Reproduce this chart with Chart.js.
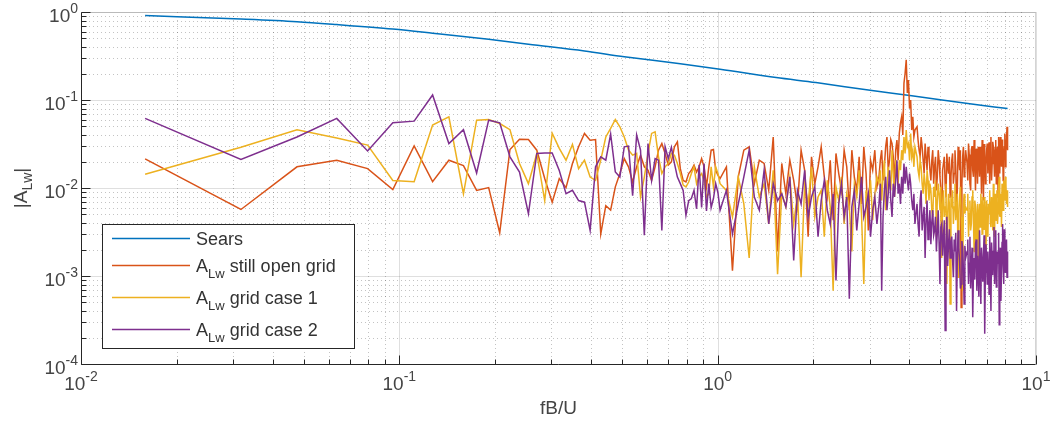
<!DOCTYPE html>
<html>
<head>
<meta charset="utf-8">
<script src="https://cdn.jsdelivr.net/npm/chart.js@4.4.1/dist/chart.umd.min.js"></script>
<style>
  html, body { margin: 0; padding: 0; background: #fff; overflow: hidden; }
  #wrap { width: 1053px; height: 424px; }
</style>
</head>
<body>
<div id="wrap"><canvas id="grafico"></canvas></div>
<script>
// frequency resolution (fB/U per FFT bin)
const df = 0.0159;

// FFT bins that are plotted (low bins all, high bins thinned)
const bins = [
  1, 2, 3, 4, 5, 6, 7, 8, 9, 10, 11, 12, 13, 14, 15, 16, 17, 18, 19, 20,
  21, 22, 23, 24, 25, 26, 27, 28, 29, 30, 31, 32, 33, 34, 35, 36, 37, 38, 39, 40,
  41, 42, 43, 44, 45, 46, 47, 48, 49, 50, 51, 52, 53, 54, 55, 56, 57, 58, 59, 60,
  61, 62, 63, 64,
  67, 70, 73, 76, 79, 82, 85, 88, 91, 94, 97, 100,
  103, 106, 109, 112, 115, 118, 121, 124, 127, 130, 133, 136, 139, 142, 145, 148, 151,
  154, 157, 160, 163, 166, 169, 172, 175, 178, 181, 184, 187, 190, 193, 196, 199,
  202, 204, 206, 208, 210, 212, 214, 216, 218, 220, 222, 224, 226, 228, 230, 232,
  234, 236, 238, 240, 242, 244, 246, 248, 250, 252, 254, 256, 258, 260, 262,
  266, 268, 270, 272, 274, 276, 278, 280, 282, 284, 286, 288, 290, 292, 294, 296,
  298, 300, 302, 304, 306, 308, 310, 312, 314, 316, 318, 320, 322, 324, 326, 328,
  330, 332, 334, 336, 338, 340, 342, 344, 346, 348, 350, 352, 354, 356, 358, 360,
  362, 364, 366, 368, 370, 372, 374, 376, 378,
  382, 384, 386, 388, 390, 392, 394, 396, 398, 400, 402, 404, 406, 408, 410, 412,
  414, 416, 418, 420, 422, 424, 426, 428, 430, 432, 434, 436, 438, 440, 442, 444,
  446, 448, 450, 452, 454, 456, 458, 460, 462, 464, 466, 468, 470, 472, 474, 476,
  478, 480, 482, 484, 486, 488, 490, 492, 494, 496, 498, 500, 502, 504, 506, 508, 510,
  512
];

// Sears function
const searsBins = [1, 2, 3, 4, 6, 8, 12, 16, 24, 32, 48, 64, 96, 128, 192, 256, 384, 512];
const searsAmp = [0.91, 0.83, 0.775, 0.72, 0.64, 0.575, 0.49, 0.43, 0.36, 0.31, 0.258, 0.224,
  0.18, 0.158, 0.128, 0.112, 0.091, 0.08];

// A_Lw still open grid
const openGrid = [
  0.0214, 0.0057, 0.0174, 0.0207, 0.0166, 0.0096, 0.030, 0.0118, 0.0207, 0.018,
  0.0094, 0.0101, 0.0031, 0.0274, 0.0359, 0.0355, 0.0269, 0.0128, 0.0069, 0.0128,
  0.0101, 0.019, 0.0294, 0.0417, 0.035, 0.0355, 0.003, 0.0063, 0.0056, 0.0103,
  0.0146, 0.0216, 0.0174, 0.0117, 0.0174, 0.0236, 0.0174, 0.0159, 0.0122, 0.0174,
  0.0269, 0.0321, 0.0247, 0.0182, 0.0198, 0.0294, 0.0335, 0.0166, 0.0122, 0.0117,
  0.0146, 0.0159, 0.0182, 0.0152, 0.0174, 0.0216, 0.0174, 0.0103, 0.0174, 0.0269,
  0.0274, 0.0159, 0.014, 0.0128,
  0.0174, 0.00115, 0.0134, 0.0269, 0.0294, 0.0112, 0.0207, 0.019, 0.0094, 0.038, 0.0019, 0.019,
  0.0086, 0.0207, 0.0122, 0.0061, 0.0269, 0.0159, 0.0028, 0.0226, 0.0112, 0.0174, 0.0294,
  0.0134, 0.0079, 0.0207, 0.0043, 0.0247, 0.0146, 0.0094, 0.0269, 0.0174, 0.0056, 0.0269,
  0.0134, 0.0094, 0.0226, 0.0066, 0.0294, 0.0146, 0.0033, 0.0207, 0.0159, 0.0269, 0.0103,
  0.0134, 0.0207, 0.0269, 0.0122, 0.0174, 0.0294, 0.038, 0.0159, 0.0207, 0.0355,
  0.032, 0.0226, 0.0112, 0.0269, 0.035, 0.0207, 0.0417, 0.055, 0.0645, 0.04,
  0.155, 0.2, 0.286, 0.12, 0.169, 0.08, 0.1, 0.0455, 0.0645, 0.038,
  0.0455,
  0.0497, 0.035, 0.0269, 0.0226, 0.038, 0.0294, 0.0207, 0.0146, 0.032, 0.0226,
  0.0159, 0.0294, 0.0247, 0.0159, 0.0122, 0.0207, 0.0269, 0.0112, 0.0174, 0.0226,
  0.0094, 0.0134, 0.0269, 0.0207, 0.0134, 0.0094, 0.0019, 0.0159, 0.019, 0.0226,
  0.0112, 0.0079, 0.0247, 0.0174, 0.0146, 0.0226, 0.0079, 0.0134, 0.0207, 0.0247,
  0.0112, 0.0146, 0.0269, 0.0174, 0.0056, 0.0094, 0.0294, 0.0226, 0.0159, 0.0269,
  0.00044, 0.0112, 0.0226, 0.0294, 0.0134, 0.0174, 0.0269,
  0.019, 0.0122, 0.032, 0.024, 0.0112, 0.0094, 0.0269, 0.03, 0.0159, 0.0134,
  0.035, 0.0207, 0.0094, 0.028, 0.0247, 0.0112, 0.0294, 0.022, 0.0134, 0.0294,
  0.0207, 0.0086, 0.035, 0.024, 0.0072, 0.0316, 0.0269, 0.0112, 0.0174, 0.0269,
  0.032, 0.0146, 0.0226, 0.033, 0.0112, 0.0247, 0.038, 0.0122, 0.019, 0.0335,
  0.0294, 0.0207, 0.0134, 0.0269, 0.035, 0.0112, 0.0207, 0.0294, 0.0079, 0.038,
  0.0269, 0.0146, 0.038, 0.0247, 0.0174, 0.0355, 0.0294, 0.0122, 0.0207, 0.0294,
  0.0417, 0.0174, 0.0269, 0.035, 0.0497,
  0.0269
];

// A_Lw grid case 1
const gridCase1 = [
  0.0143, 0.029, 0.046, 0.037, 0.0307, 0.0122, 0.0118, 0.052, 0.0645, 0.0086,
  0.059, 0.060, 0.054, 0.046, 0.019, 0.0112, 0.0247, 0.0072, 0.042, 0.0282,
  0.0207, 0.0313, 0.0166, 0.0207, 0.0133, 0.0122, 0.0207, 0.038, 0.0475, 0.060,
  0.0496, 0.038, 0.027, 0.0236, 0.0247, 0.0079, 0.0133, 0.0247, 0.0417, 0.0435,
  0.0226, 0.0146, 0.0174, 0.019, 0.0247, 0.0236, 0.019, 0.0146, 0.0108, 0.0103,
  0.0117, 0.0146, 0.0174, 0.0112, 0.0134, 0.0146, 0.0122, 0.0079, 0.0086, 0.0174,
  0.0103, 0.0174, 0.0146, 0.0112,
  0.0094, 0.0047, 0.0134, 0.0066, 0.0016, 0.0174, 0.0079, 0.0112, 0.0039, 0.0159, 0.00105, 0.0086,
  0.0061, 0.0134, 0.0039, 0.0086, 0.00097, 0.0112, 0.0066, 0.0174, 0.0047, 0.0079, 0.0094,
  0.0028, 0.0122, 0.0061, 0.00068, 0.0103, 0.0072, 0.0134, 0.0039, 0.0086, 0.0061, 0.0019,
  0.0112, 0.0079, 0.0159, 0.0051, 0.00081, 0.0094, 0.0066, 0.0122, 0.0043, 0.0086, 0.0134,
  0.0112, 0.0159, 0.0072, 0.0134, 0.0207, 0.0056, 0.0094, 0.0174, 0.0134, 0.0094,
  0.0269, 0.0134, 0.0079, 0.0207, 0.0159, 0.0112, 0.0207, 0.0159, 0.0269, 0.0207,
  0.038, 0.0247, 0.0455, 0.0294, 0.032, 0.0207, 0.0417, 0.0226, 0.0269, 0.0174,
  0.0294,
  0.0226, 0.0159, 0.0134, 0.0207, 0.0174, 0.0112, 0.0086, 0.0146, 0.0112, 0.0066,
  0.0159, 0.0122, 0.0072, 0.0112, 0.0094, 0.0056, 0.0047, 0.0103, 0.0079, 0.0122,
  0.0028, 0.0072, 0.0112, 0.0086, 0.0056, 0.0103, 0.0016, 0.0066, 0.0094, 0.0047,
  0.0061, 0.0112, 0.00081, 0.0051, 0.0086, 0.0066, 0.00048, 0.0072, 0.0066, 0.0094,
  0.0039, 0.0061, 0.0112, 0.0043, 0.0056, 0.0086, 0.00097, 0.0051, 0.0079, 0.0103,
  0.0047, 0.0028, 0.00068, 0.0066, 0.0086, 0.0051, 0.0061,
  0.0056, 0.0086, 0.0028, 0.0051, 0.0072, 0.0033, 0.0039, 0.0079, 0.0094, 0.0043,
  0.0019, 0.0072, 0.0061, 0.0026, 0.0043, 0.0066, 0.00081, 0.0051, 0.0066, 0.0036,
  0.0086, 0.0061, 0.003, 0.0079, 0.0056, 0.0034, 0.0079, 0.0047, 0.0016, 0.0072,
  0.0047, 0.0028, 0.0066, 0.0051, 0.0094, 0.0041, 0.0036, 0.0079, 0.0061, 0.0033,
  0.0112, 0.0056, 0.0028, 0.0086, 0.0072, 0.0043, 0.0094, 0.0039, 0.0051, 0.0103,
  0.0134, 0.0047, 0.0066, 0.0086, 0.0036, 0.0112, 0.0103, 0.0056, 0.0122, 0.0079,
  0.0072, 0.0134, 0.0112, 0.0066, 0.0094,
  0.0061
];

// A_Lw grid case 2
const gridCase2 = [
  0.0618, 0.0211, 0.038, 0.0618, 0.0264, 0.055, 0.0575, 0.114, 0.032, 0.046,
  0.0148, 0.059, 0.055, 0.0226, 0.0152, 0.0051, 0.0247, 0.025, 0.025, 0.0158,
  0.0086, 0.0094, 0.0072, 0.0069, 0.0033, 0.0174, 0.0226, 0.0207, 0.041, 0.0152,
  0.0133, 0.0294, 0.030, 0.0082, 0.040, 0.027, 0.0029, 0.032, 0.0122, 0.0216,
  0.0207, 0.0033, 0.0294, 0.0216, 0.029, 0.019, 0.0133, 0.0112, 0.0094, 0.0049,
  0.0072, 0.0076, 0.0094, 0.0058, 0.0183, 0.006, 0.019, 0.0055, 0.0112, 0.006,
  0.0076, 0.0112, 0.0089, 0.0056,
  0.0094, 0.003, 0.0066, 0.0134, 0.0269, 0.0079, 0.0056, 0.0159, 0.0039, 0.0112, 0.0072, 0.0086,
  0.0061, 0.0134, 0.0015, 0.0094, 0.0066, 0.0159, 0.0047, 0.0079, 0.0103, 0.0028, 0.0072,
  0.0122, 0.0056, 0.0039, 0.0086, 0.00089, 0.0066, 0.0112, 0.0047, 0.0079, 0.00055, 0.0061,
  0.0094, 0.0033, 0.0066, 0.0134, 0.0047, 0.0061, 0.0086, 0.0028, 0.0056, 0.0079, 0.0039,
  0.0066, 0.0112, 0.00068, 0.0047, 0.0094, 0.0134, 0.0056, 0.0086, 0.0159, 0.0072,
  0.0047, 0.0112, 0.0079, 0.0122, 0.0207, 0.0086, 0.0112, 0.0066, 0.0134, 0.0086,
  0.019, 0.0112, 0.0174, 0.0122, 0.0094, 0.0146, 0.0112, 0.0072, 0.0056, 0.0086,
  0.0039,
  0.0066, 0.0039, 0.0028, 0.0072, 0.0094, 0.0033, 0.0047, 0.0061, 0.0016, 0.0043,
  0.0072, 0.0026, 0.0039, 0.0056, 0.0023, 0.0041, 0.0056, 0.0029, 0.0033, 0.0047,
  0.0019, 0.0031, 0.0056, 0.0024, 0.00081, 0.0036, 0.0039, 0.0017, 0.0028, 0.0043,
  0.00024, 0.0021, 0.0047, 0.0013, 0.0023, 0.0034, 0.0016, 0.0024, 0.0028, 0.0015,
  0.00097, 0.0026, 0.0019, 0.0031, 0.0004, 0.0016, 0.0033, 0.0021, 0.0014, 0.00072,
  0.00081, 0.0025, 0.0021, 0.0012, 0.00048, 0.0022, 0.0016,
  0.0019, 0.0026, 0.00081, 0.0014, 0.0028, 0.00072, 0.00126, 0.0021, 0.00034, 0.0011,
  0.0016, 0.00091, 0.0023, 0.0026, 0.00068, 0.0017, 0.00115, 0.00058, 0.0033, 0.0012,
  0.00048, 0.0021, 0.0014, 0.00086, 0.0017, 0.0029, 0.00022, 0.0011, 0.0023, 0.0015,
  0.00081, 0.0019, 0.00126, 0.00062, 0.0028, 0.0013, 0.0004, 0.0024, 0.0016, 0.00102,
  0.0019, 0.0036, 0.00081, 0.0016, 0.0033, 0.00075, 0.00097, 0.0019, 0.0014, 0.0031,
  0.00028, 0.0012, 0.0021, 0.00052, 0.00115, 0.0024, 0.0039, 0.0013, 0.00081, 0.0034,
  0.0028, 0.0011, 0.0016, 0.0026, 0.00097,
  0.0019
];

// decade ticks and their exponent labels
const xTicks = [0.01, 0.1, 1, 10];
const xTickExp = ['-2', '-1', '0', '1'];
const yTicks = [1e-4, 1e-3, 1e-2, 1e-1, 1];
const yTickExp = ['-4', '-3', '-2', '-1', '0'];

const FONT = '"Liberation Sans", Arial, Helvetica, sans-serif';
const TXT = '#444';
const AX = '#262626';

const series = [
  { name: 'Sears', sub: '', rest: 'Sears', color: '#0072BD' },
  { name: 'A', sub: 'Lw', rest: ' still open grid', color: '#D95319' },
  { name: 'A', sub: 'Lw', rest: ' grid case 1', color: '#EDB120' },
  { name: 'A', sub: 'Lw', rest: ' grid case 2', color: '#7E2F8E' }
];

function toPts(b, v) {
  return b.map((k, i) => ({ x: k * df, y: v[i] }));
}

function pow10(ctx, exp, x, y, align) {
  ctx.font = '19px ' + FONT;
  const wb = ctx.measureText('10').width;
  ctx.font = '14px ' + FONT;
  const we = ctx.measureText(exp).width;
  const x0 = align === 'right' ? x - wb - we : x - (wb + we) / 2;
  ctx.textAlign = 'left';
  ctx.textBaseline = 'alphabetic';
  ctx.font = '19px ' + FONT;
  ctx.fillText('10', x0, y);
  ctx.font = '14px ' + FONT;
  ctx.fillText(exp, x0 + wb, y - 9);
}

function minorVals(lo, hi) {
  const out = [];
  for (let d = lo; d < hi; d++) {
    for (let m = 2; m <= 9; m++) out.push(m * Math.pow(10, d));
  }
  return out;
}

const matlabAxes = {
  id: 'matlabAxes',
  beforeDatasetsDraw(chart) {
    const { ctx, chartArea: a, scales: { x, y } } = chart;
    ctx.save();
    ctx.lineWidth = 1;
    // minor grid, dotted
    ctx.strokeStyle = 'rgba(38,38,38,0.28)';
    ctx.setLineDash([1, 3]);
    minorVals(-2, 1).forEach(v => {
      const px = Math.round(x.getPixelForValue(v)) + 0.5;
      ctx.beginPath(); ctx.moveTo(px, a.top); ctx.lineTo(px, a.bottom); ctx.stroke();
    });
    minorVals(-4, 0).forEach(v => {
      const py = Math.round(y.getPixelForValue(v)) + 0.5;
      ctx.beginPath(); ctx.moveTo(a.left, py); ctx.lineTo(a.right, py); ctx.stroke();
    });
    // major grid
    ctx.setLineDash([]);
    ctx.strokeStyle = 'rgba(38,38,38,0.15)';
    xTicks.forEach(v => {
      const px = Math.round(x.getPixelForValue(v)) + 0.5;
      ctx.beginPath(); ctx.moveTo(px, a.top); ctx.lineTo(px, a.bottom); ctx.stroke();
    });
    yTicks.forEach(v => {
      const py = Math.round(y.getPixelForValue(v)) + 0.5;
      ctx.beginPath(); ctx.moveTo(a.left, py); ctx.lineTo(a.right, py); ctx.stroke();
    });
    ctx.restore();
  },
  afterDatasetsDraw(chart) {
    const { ctx, chartArea: a, scales: { x, y } } = chart;
    const L = Math.round(a.left) + 0.5, B = Math.round(a.bottom) + 0.5;
    const T = Math.round(a.top) + 0.5, R = Math.round(a.right) - 0.5;
    ctx.save();
    ctx.lineWidth = 1;
    ctx.strokeStyle = 'rgba(38,38,38,0.2)';
    ctx.beginPath(); ctx.moveTo(L, T); ctx.lineTo(R, T); ctx.lineTo(R, B); ctx.stroke();
    ctx.strokeStyle = AX;
    ctx.beginPath(); ctx.moveTo(L, T); ctx.lineTo(L, B); ctx.lineTo(R, B); ctx.stroke();
    // inward ticks
    const tick = (px, len, horiz) => {
      ctx.beginPath();
      if (horiz) { ctx.moveTo(L, px); ctx.lineTo(L + len, px); }
      else { ctx.moveTo(px, B); ctx.lineTo(px, B - len); }
      ctx.stroke();
    };
    minorVals(-2, 1).forEach(v => tick(Math.round(x.getPixelForValue(v)) + 0.5, 5, false));
    xTicks.forEach(v => tick(Math.round(x.getPixelForValue(v)) + 0.5, 9, false));
    minorVals(-4, 0).forEach(v => tick(Math.round(y.getPixelForValue(v)) + 0.5, 5, true));
    yTicks.forEach(v => tick(Math.round(y.getPixelForValue(v)) + 0.5, 9, true));

    // tick labels
    ctx.fillStyle = TXT;
    xTicks.forEach((v, i) => pow10(ctx, xTickExp[i], x.getPixelForValue(v), a.bottom + 26, 'center'));
    yTicks.forEach((v, i) => pow10(ctx, yTickExp[i], a.left - 3, y.getPixelForValue(v) + 10, 'right'));

    // axis titles
    ctx.font = '19px ' + FONT;
    ctx.textAlign = 'center';
    ctx.fillText('fB/U', (a.left + a.right) / 2, a.bottom + 50);

    ctx.save();
    ctx.translate(27, (a.top + a.bottom) / 2);
    ctx.rotate(-Math.PI / 2);
    ctx.textAlign = 'left';
    ctx.font = '19px ' + FONT;
    const w1 = ctx.measureText('|A').width, w3 = ctx.measureText('|').width;
    ctx.font = '14px ' + FONT;
    const w2 = ctx.measureText('Lw').width;
    let tx = -(w1 + w2 + w3) / 2;
    ctx.font = '19px ' + FONT;
    ctx.fillText('|A', tx, 0);
    ctx.font = '14px ' + FONT;
    ctx.fillText('Lw', tx + w1, 5);
    ctx.font = '19px ' + FONT;
    ctx.fillText('|', tx + w1 + w2, 0);
    ctx.restore();

    // legend
    const bx = 102.5, by = 224.5, bw = 252, bh = 124;
    ctx.fillStyle = '#fff';
    ctx.fillRect(bx, by, bw, bh);
    ctx.strokeStyle = AX;
    ctx.strokeRect(bx, by, bw, bh);
    const rowY = [238, 265, 297, 329];
    series.forEach((s, i) => {
      const ly = rowY[i] + 0.5;
      ctx.strokeStyle = s.color;
      ctx.lineWidth = 1.3;
      ctx.beginPath(); ctx.moveTo(112, ly); ctx.lineTo(190, ly); ctx.stroke();
      ctx.fillStyle = '#333';
      ctx.textAlign = 'left';
      const base = rowY[i] + 7;
      if (!s.sub) {
        ctx.font = '18px ' + FONT;
        ctx.fillText(s.rest, 196, base);
        return;
      }
      ctx.font = '18px ' + FONT;
      ctx.fillText(s.name, 196, base);
      let cx = 196 + ctx.measureText(s.name).width;
      ctx.font = '13px ' + FONT;
      ctx.fillText(s.sub, cx, base + 6);
      cx += ctx.measureText(s.sub).width;
      ctx.font = '18px ' + FONT;
      ctx.fillText(s.rest, cx, base);
    });
    ctx.restore();
  }
};

const ctx = document.getElementById('grafico').getContext('2d');

new Chart(ctx, {
  type: 'line',
  data: {
    datasets: [
      {
        label: 'Sears',
        data: toPts(searsBins, searsAmp),
        borderColor: series[0].color,
        cubicInterpolationMode: 'monotone',
        order: 3
      },
      { label: 'A_Lw still open grid', data: toPts(bins, openGrid), borderColor: series[1].color, order: 2 },
      { label: 'A_Lw grid case 1', data: toPts(bins, gridCase1), borderColor: series[2].color, order: 1 },
      { label: 'A_Lw grid case 2', data: toPts(bins, gridCase2), borderColor: series[3].color, order: 0 }
    ]
  },
  options: {
    responsive: true,
    maintainAspectRatio: false,
    animation: false,
    layout: { padding: { left: 81, top: 12, right: 17, bottom: 60 } },
    elements: {
      point: { radius: 0 },
      line: { borderWidth: 1.5, tension: 0 }
    },
    plugins: {
      legend: { display: false },
      tooltip: { enabled: false }
    },
    scales: {
      x: { type: 'logarithmic', min: 0.01, max: 10, display: false },
      y: { type: 'logarithmic', min: 1e-4, max: 1, display: false }
    }
  },
  plugins: [matlabAxes]
});
</script>
</body>
</html>
